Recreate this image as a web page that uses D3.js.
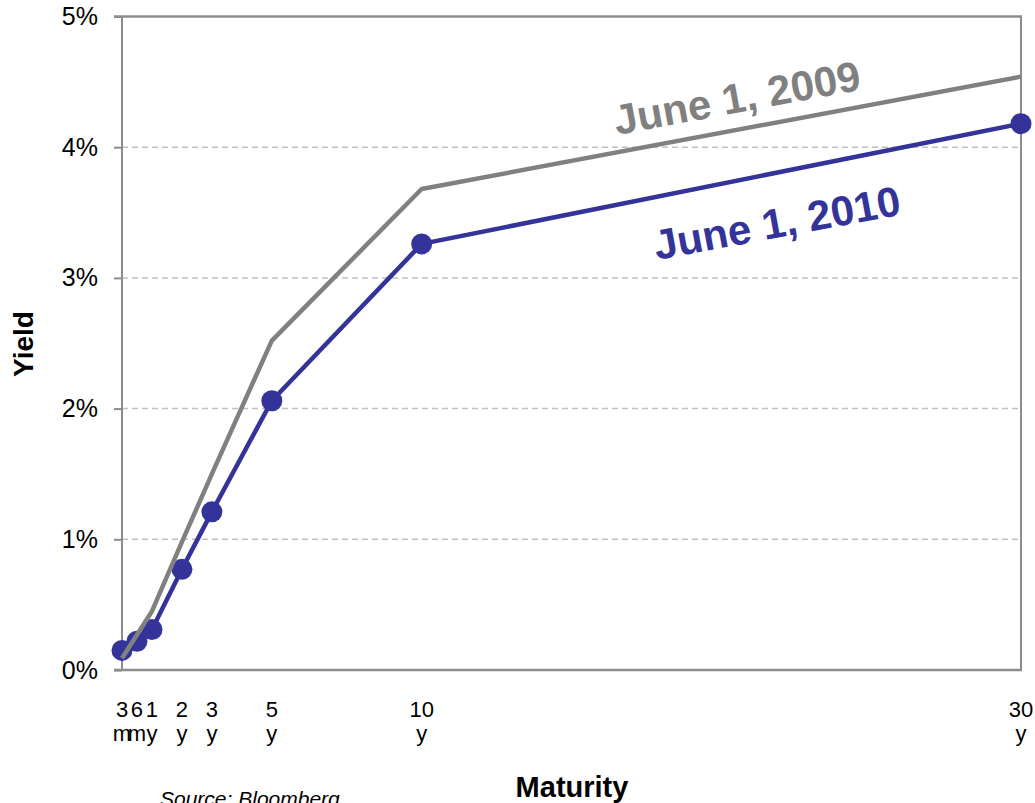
<!DOCTYPE html>
<html>
<head>
<meta charset="utf-8">
<script src="https://cdn.jsdelivr.net/npm/d3@7"></script>
<style>
  html, body { margin: 0; padding: 0; background: #fff; }
  svg { display: block; font-family: Arial, "Liberation Sans", sans-serif; }
</style>
</head>
<body>
<svg id="chart" width="1035" height="803"></svg>
<script>
// Treasury yield curve, June 1 2009 vs June 1 2010
const maturities   = ["3 m", "6 m", "1 y", "2 y", "3 y", "5 y", "10 y", "30 y"];
const maturityPos  = [0, 0.5, 1, 2, 3, 5, 10, 30];          // plotted position, years
const yields2009   = [0.09, 0.27, 0.45, 0.98, 1.50, 2.52, 3.68, 4.54];
const yields2010   = [0.15, 0.22, 0.31, 0.77, 1.21, 2.06, 3.26, 4.18];
const yieldTicks   = [0, 1, 2, 3, 4, 5];
const seriesNames  = ["June 1, 2009", "June 1, 2010"];

const svg = d3.select("#chart");
const plotLeft = 122, plotRight = 1021, plotTop = 16.5, plotBottom = 670;

const x = d3.scaleLinear().domain([0, 30]).range([plotLeft, plotRight]);
const y = d3.scaleLinear().domain([0, 5]).range([plotBottom, plotTop]);

const axisColor = "#8c8c8c";
const grey = "#808080";
const blue = "#333399";

// dashed gridlines
svg.append("g")
  .selectAll("line")
  .data(yieldTicks.filter(d => d > 0 && d < 5))
  .join("line")
  .attr("x1", plotLeft).attr("x2", plotRight)
  .attr("y1", d => y(d)).attr("y2", d => y(d))
  .attr("stroke", "#c0c0c0")
  .attr("stroke-width", 1.5)
  .attr("stroke-dasharray", "6,4");

// y axis with outside ticks
const yAxis = svg.append("g")
  .attr("transform", `translate(${plotLeft},0)`)
  .call(d3.axisLeft(y).tickValues(yieldTicks).tickSize(8).tickPadding(16)
        .tickFormat(d => d + "%"));
yAxis.select(".domain").remove();
yAxis.selectAll(".tick line").attr("stroke", axisColor).attr("stroke-width", 2);
yAxis.selectAll(".tick text")
  .attr("font-size", 25).attr("fill", "#000")
  .attr("font-family", "Arial, 'Liberation Sans', sans-serif");

// frame: left, bottom, top, right
svg.append("line").attr("x1", plotLeft).attr("x2", plotLeft).attr("y1", plotTop).attr("y2", plotBottom)
  .attr("stroke", axisColor).attr("stroke-width", 2);
svg.append("line").attr("x1", plotLeft - 8).attr("x2", plotRight + 1).attr("y1", plotBottom).attr("y2", plotBottom)
  .attr("stroke", axisColor).attr("stroke-width", 2.5);
svg.append("line").attr("x1", plotLeft - 8).attr("x2", plotRight + 1).attr("y1", plotTop).attr("y2", plotTop)
  .attr("stroke", axisColor).attr("stroke-width", 2.5);
svg.append("line").attr("x1", plotRight).attr("x2", plotRight).attr("y1", plotTop).attr("y2", plotBottom)
  .attr("stroke", axisColor).attr("stroke-width", 2);

// x tick labels, stacked number / unit
const xLab = svg.append("g")
  .selectAll("text")
  .data(maturities.map((m, i) => ({ label: m, pos: maturityPos[i] })))
  .join("text")
  .attr("text-anchor", "middle")
  .attr("font-size", 22)
  .attr("fill", "#000");
xLab.append("tspan")
  .attr("x", d => x(d.pos)).attr("y", 717)
  .text(d => d.label.split(" ")[0]);
xLab.append("tspan")
  .attr("x", d => x(d.pos)).attr("y", 741)
  .text(d => d.label.split(" ")[1]);

const line = d3.line()
  .x((d, i) => x(maturityPos[i]))
  .y(d => y(d));

// 2010 curve with markers
svg.append("path")
  .datum(yields2010)
  .attr("d", line)
  .attr("fill", "none")
  .attr("stroke", blue)
  .attr("stroke-width", 4.5)
  .attr("stroke-linejoin", "round");
svg.append("g")
  .selectAll("circle")
  .data(yields2010)
  .join("circle")
  .attr("cx", (d, i) => x(maturityPos[i]))
  .attr("cy", d => y(d))
  .attr("r", 10.5)
  .attr("fill", blue);

// 2009 curve, no markers
svg.append("path")
  .datum(yields2009)
  .attr("d", line)
  .attr("fill", "none")
  .attr("stroke", grey)
  .attr("stroke-width", 4.5)
  .attr("stroke-linejoin", "round");

// series labels along the long end of each curve
svg.append("text")
  .attr("transform", "translate(737,98) rotate(-10.5)")
  .attr("text-anchor", "middle").attr("dominant-baseline", "central")
  .attr("font-size", 42).attr("font-weight", "bold").attr("fill", grey)
  .text(seriesNames[0]);
svg.append("text")
  .attr("transform", "translate(777,223) rotate(-10.5)")
  .attr("text-anchor", "middle").attr("dominant-baseline", "central")
  .attr("font-size", 42).attr("font-weight", "bold").attr("fill", blue)
  .text(seriesNames[1]);

// axis titles
svg.append("text")
  .attr("transform", "translate(33,344) rotate(-90)")
  .attr("text-anchor", "middle")
  .attr("font-size", 28).attr("font-weight", "bold").attr("fill", "#000")
  .text("Yield");
svg.append("text")
  .attr("x", 572).attr("y", 797)
  .attr("text-anchor", "middle")
  .attr("font-size", 29).attr("font-weight", "bold").attr("fill", "#000")
  .text("Maturity");

// source note, partly below the bottom edge
svg.append("text")
  .attr("x", 160).attr("y", 806)
  .attr("font-size", 21).attr("font-style", "italic").attr("fill", "#000")
  .text("Source: Bloomberg");
</script>
</body>
</html>
